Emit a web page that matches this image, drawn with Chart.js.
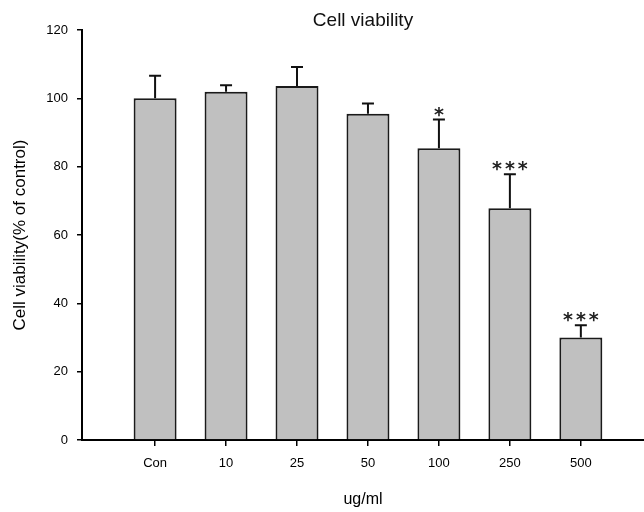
<!DOCTYPE html>
<html>
<head>
<meta charset="utf-8">
<script src="https://cdn.jsdelivr.net/npm/chart.js@4.4.1/dist/chart.umd.min.js"></script>
<style>
  html, body { margin: 0; padding: 0; background: #fff; }
  #wrap { width: 644px; height: 512px; position: relative; }
</style>
</head>
<body>
<div id="wrap"><canvas id="c" width="644" height="512"></canvas></div>
<script>
// ---- data ----
const categories = ['Con', '10', '25', '50', '100', '250', '500'];
const viability = [100, 101.9, 103.6, 95.5, 85.4, 67.8, 30.0];
const sem = [6.6, 1.9, 5.6, 3.0, 8.4, 10.0, 3.6];
const significance = ['', '', '', '', '*', '***', '***'];
const yTicks = [0, 20, 40, 60, 80, 100, 120];

const FONT = '"Liberation Sans", Arial, sans-serif';

const errorBarPlugin = {
  id: 'errorBars',
  afterLayout(chart) {
    // centre the title over the plotting area, as in the reference
    const t = chart.titleBlock;
    if (t) {
      t.left = chart.chartArea.left;
      t.right = chart.chartArea.right;
      t.width = t.right - t.left;
    }
  },
  afterDatasetsDraw(chart) {
    const ctx = chart.ctx;
    const meta = chart.getDatasetMeta(0);
    const yScale = chart.scales.y;
    ctx.save();
    meta.data.forEach((bar, i) => {
      const x = bar.x;
      const yTop = yScale.getPixelForValue(viability[i] + sem[i]);
      const yBar = yScale.getPixelForValue(viability[i]);
      ctx.strokeStyle = '#111';
      ctx.lineWidth = 2;
      ctx.beginPath();
      ctx.moveTo(x, yBar);
      ctx.lineTo(x, yTop);
      ctx.moveTo(x - 6, yTop);
      ctx.lineTo(x + 6, yTop);
      ctx.stroke();
      if (significance[i]) {
        ctx.fillStyle = '#222';
        ctx.font = 'bold 19px "DejaVu Sans", sans-serif';
        ctx.textAlign = 'center';
        ctx.textBaseline = 'alphabetic';
        try { ctx.letterSpacing = '3px'; } catch (e) {}
        ctx.fillText(significance[i], x + 1.5, yTop + 1);
      }
    });
    ctx.restore();
  }
};

new Chart(document.getElementById('c'), {
  type: 'bar',
  data: {
    datasets: [{
      data: viability.map((v, i) => ({ x: i, y: v })),
      backgroundColor: '#c0c0c0',
      borderColor: '#1a1a1a',
      borderWidth: 2,
      borderSkipped: 'start',
      barPercentage: 0.757,
      categoryPercentage: 0.8
    }]
  },
  options: {
    responsive: false,
    animation: false,
    devicePixelRatio: 1,
    layout: { padding: { left: 0, right: 0, top: 0, bottom: 0 } },
    plugins: {
      legend: { display: false },
      tooltip: { enabled: false },
      title: {
        display: true,
        text: 'Cell viability',
        color: '#111',
        font: { family: FONT, size: 19, weight: 'normal', lineHeight: 1.0 },
        padding: { top: 11, bottom: 0 }
      }
    },
    scales: {
      x: {
        type: 'linear',
        min: -1.03,
        max: 6.89,
        offset: false,
        afterBuildTicks(scale) {
          scale.ticks = categories.map((c, i) => ({ value: i }));
        },
        afterFit(scale) { scale.height = 72; },
        ticks: {
          autoSkip: false,
          maxRotation: 0,
          color: '#000',
          padding: 10,
          font: { family: FONT, size: 13 }, 
          callback: (v) => categories[v] !== undefined ? categories[v] : ''
        },
        grid: {
          offset: false,
          drawOnChartArea: false,
          drawTicks: true,
          tickLength: 6,
          color: '#000',
          lineWidth: 1.5
        },
        border: { display: true, color: '#000', width: 2 },
        title: {
          display: true,
          text: 'ug/ml',
          color: '#000',
          font: { family: FONT, size: 16 },
          padding: { top: 0, bottom: 3 }
        }
      },
      y: {
        min: 0,
        max: 120,
        afterBuildTicks(scale) {
          scale.ticks = yTicks.map(v => ({ value: v }));
        },
        afterFit(scale) { scale.width = 82; },
        ticks: {
          color: '#000',
          padding: 9,
          font: { family: FONT, size: 13 }
        },
        grid: {
          drawOnChartArea: false,
          drawTicks: true,
          tickLength: 5,
          color: '#000',
          lineWidth: 1.5
        },
        border: { display: true, color: '#000', width: 2 },
        title: {
          display: true,
          text: 'Cell viability(% of control)',
          color: '#000',
          font: { family: FONT, size: 17 },
          padding: { top: 10, bottom: 0 }
        }
      }
    }
  },
  plugins: [errorBarPlugin]
});
</script>
</body>
</html>
